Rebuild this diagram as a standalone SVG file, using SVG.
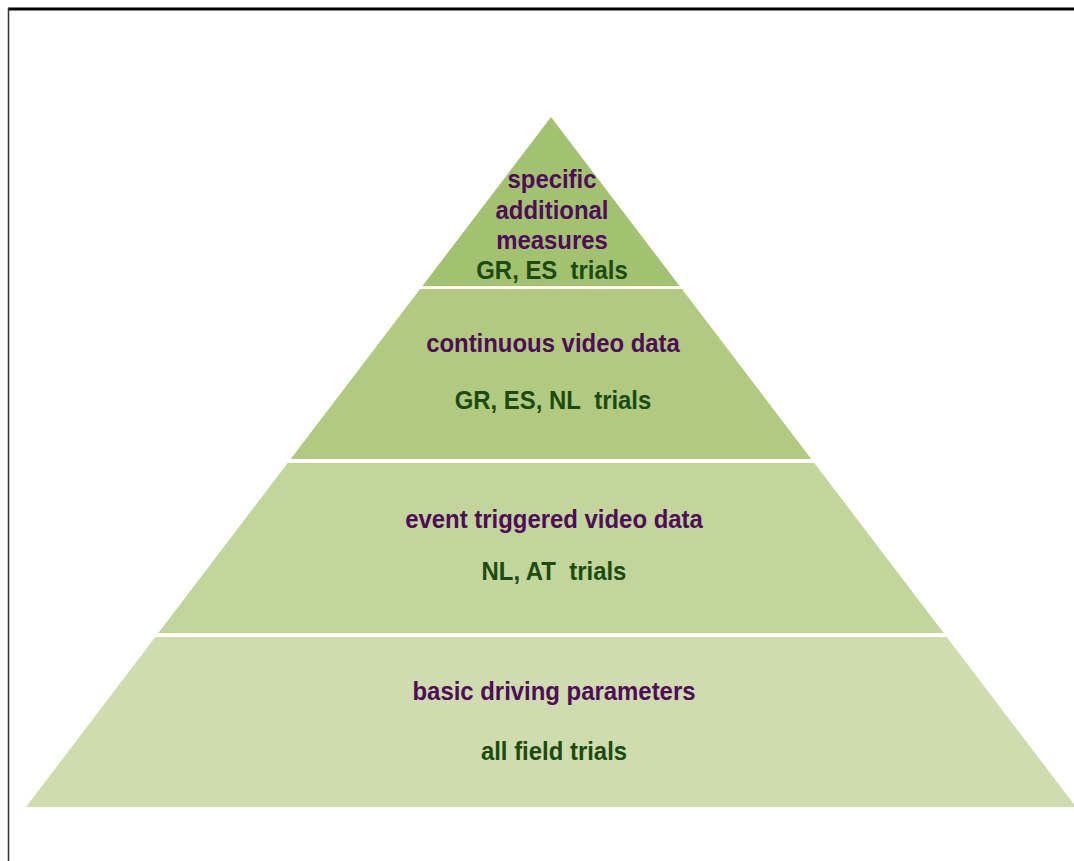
<svg xmlns="http://www.w3.org/2000/svg" width="1074" height="861" viewBox="0 0 1074 861">
<style>
.p{font-family:"Liberation Sans",Arial,sans-serif;font-weight:bold;font-size:26px;text-anchor:middle;fill:#4e0c59}
.g{font-family:"Liberation Sans",Arial,sans-serif;font-weight:bold;font-size:26px;text-anchor:middle;fill:#1c4b0f}
</style>
<rect width="1074" height="861" fill="#ffffff"/>
<g id="frame">
<line x1="8" y1="9" x2="1074" y2="9" stroke="#000" stroke-width="3"/>
<line x1="8.5" y1="8" x2="8.5" y2="861" stroke="#333" stroke-width="1.5"/>
</g>
<g id="layer1">
<polygon points="551,117 679.6,286 422.4,286" fill="#a3c271"/>
<g transform="translate(552,0) scale(0.92,1)">
<text class="p" x="0" y="188">specific</text>
<text class="p" x="0" y="219">additional</text>
<text class="p" x="0" y="249">measures</text>
<text class="g" x="0" y="279">GR, ES&#160; trials</text>
</g>
</g>
<g id="layer2">
<polygon points="420.1,289 681.9,289 811.3,459 290.7,459" fill="#b1ca80"/>
<g transform="translate(553,0) scale(0.92,1)">
<text class="p" x="0" y="352">continuous video data</text>
<text class="g" x="0" y="409">GR, ES, NL&#160; trials</text>
</g>
</g>
<g id="layer3">
<polygon points="287.7,463 814.3,463 943.7,633 158.3,633" fill="#c2d59b"/>
<g transform="translate(554,0) scale(0.92,1)">
<text class="p" x="0" y="528">event triggered video data</text>
<text class="g" x="0" y="580">NL, AT&#160; trials</text>
</g>
</g>
<g id="layer4">
<polygon points="155.3,637 946.7,637 1076,807 26,807" fill="#cfdcae"/>
<g transform="translate(554,0) scale(0.92,1)">
<text class="p" x="0" y="700">basic driving parameters</text>
<text class="g" x="0" y="760">all field trials</text>
</g>
</g>
</svg>
